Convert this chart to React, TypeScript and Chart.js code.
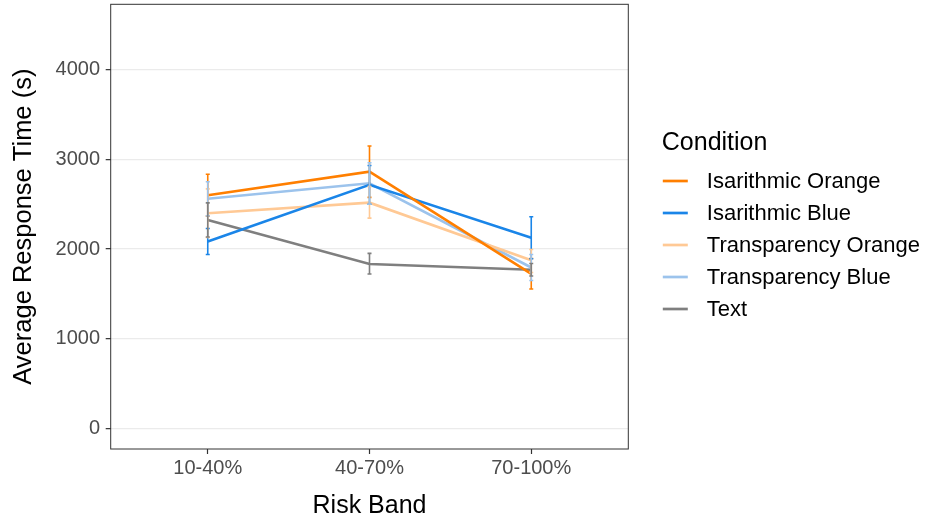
import React, { useEffect, useRef } from "react";
import { Chart, registerables } from "chart.js";

Chart.register(...registerables);

const categories = ["10-40%", "40-70%", "70-100%"];
const seriesNames = [
  "Isarithmic Orange",
  "Isarithmic Blue",
  "Transparency Orange",
  "Transparency Blue",
  "Text",
];
const seriesColors = ["#FF7F00", "#1A85E8", "#FFC995", "#9CC3EC", "#7F7F7F"];

const isoOrange = [2600, 2862, 1725];
const isoOrangeLow = [2367, 2576, 1556];
const isoOrangeHigh = [2833, 3148, 1895];

const isoBlue = [2085, 2715, 2127];
const isoBlueLow = [1940, 2500, 1893];
const isoBlueHigh = [2230, 2930, 2361];

const transOrange = [2400, 2517, 1875];
const transOrangeLow = [2130, 2345, 1740];
const transOrangeHigh = [2670, 2695, 1995];

const transBlue = [2560, 2733, 1795];
const transBlueLow = [2370, 2500, 1650];
const transBlueHigh = [2750, 2962, 1940];

const textSeries = [2324, 1834, 1770];
const textLow = [2135, 1723, 1700];
const textHigh = [2515, 1953, 1840];

const seriesValues = [isoOrange, isoBlue, transOrange, transBlue, textSeries];
const seriesLows = [isoOrangeLow, isoBlueLow, transOrangeLow, transBlueLow, textLow];
const seriesHighs = [isoOrangeHigh, isoBlueHigh, transOrangeHigh, transBlueHigh, textHigh];

const yTicks = [0, 1000, 2000, 3000, 4000];
const yMin = -225;
const yMax = 4725;

const legendTitle = "Condition";
const xTitle = "Risk Band";
const yTitle = "Average Response Time (s)";

const FONT = "Arial, 'Liberation Sans', Helvetica, sans-serif";

const errorBarPlugin = {
  id: "errorBars",
  afterDatasetsDraw(chart: any) {
    const ctx = chart.ctx;
    const xs = chart.scales.x;
    const ys = chart.scales.y;
    ctx.save();
    seriesValues.forEach((_vals, si) => {
      ctx.strokeStyle = seriesColors[si];
      ctx.lineWidth = 1.6;
      categories.forEach((_c, ci) => {
        const x = xs.getPixelForValue(ci);
        const yl = ys.getPixelForValue(seriesLows[si][ci]);
        const yh = ys.getPixelForValue(seriesHighs[si][ci]);
        ctx.beginPath();
        ctx.moveTo(x, yl);
        ctx.lineTo(x, yh);
        ctx.moveTo(x - 2, yl);
        ctx.lineTo(x + 2, yl);
        ctx.moveTo(x - 2, yh);
        ctx.lineTo(x + 2, yh);
        ctx.stroke();
      });
    });
    ctx.restore();
  },
};

const panelBorderPlugin = {
  id: "panelBorder",
  afterDraw(chart: any) {
    const { ctx, chartArea } = chart;
    ctx.save();
    ctx.strokeStyle = "#333333";
    ctx.lineWidth = 1;
    ctx.strokeRect(chartArea.left, chartArea.top, chartArea.right - chartArea.left, chartArea.bottom - chartArea.top);
    ctx.restore();
  },
};

const legendPlugin = {
  id: "customLegend",
  afterDraw(chart: any) {
    const { ctx, chartArea } = chart;
    const x0 = chartArea.right + 34.5;
    ctx.save();
    ctx.fillStyle = "#000000";
    ctx.font = `25px ${FONT}`;
    ctx.textAlign = "left";
    ctx.textBaseline = "alphabetic";
    ctx.fillText(legendTitle, x0 - 1, 150);
    ctx.font = `22px ${FONT}`;
    ctx.textBaseline = "middle";
    seriesNames.forEach((name, i) => {
      const y = 181 + 32 * i;
      ctx.strokeStyle = seriesColors[i];
      ctx.lineWidth = 2.7;
      ctx.beginPath();
      ctx.moveTo(x0, y);
      ctx.lineTo(x0 + 25, y);
      ctx.stroke();
      ctx.fillStyle = "#000000";
      ctx.fillText(name, x0 + 44, y + 1);
    });
    ctx.restore();
  },
};

export default function App() {
  const canvasRef = useRef<HTMLCanvasElement | null>(null);

  useEffect(() => {
    if (!canvasRef.current) return;
    const chart = new Chart(canvasRef.current, {
      type: "line",
      data: {
        datasets: seriesNames.map((name, si) => ({
          label: name,
          data: seriesValues[si].map((v, ci) => ({ x: ci, y: v })),
          borderColor: seriesColors[si],
          backgroundColor: seriesColors[si],
          borderWidth: 2.6,
          pointRadius: 0,
          tension: 0,
          fill: false,
        })),
      },
      options: {
        responsive: false,
        animation: false,
        events: [],
        layout: { padding: { left: 0, top: 4.3, right: 298.7, bottom: 0 } },
        plugins: {
          legend: { display: false },
          tooltip: { enabled: false },
        },
        scales: {
          x: {
            type: "linear",
            min: -0.6,
            max: 2.6,
            afterBuildTicks: (axis: any) => {
              axis.ticks = categories.map((_c, i) => ({ value: i }));
            },
            afterFit: (s: any) => {
              s.height = 74;
              s.paddingLeft = 0;
              s.paddingRight = 0;
            },
            border: { display: false },
            grid: {
              drawOnChartArea: false,
              drawTicks: true,
              tickLength: 5,
              tickColor: "#333333",
              tickWidth: 1.2,
            },
            ticks: {
              autoSkip: false,
              maxRotation: 0,
              padding: 2,
              color: "#4D4D4D",
              font: { family: FONT, size: 20 },
              callback: (v: any) => categories[Number(v)] ?? "",
            },
            title: {
              display: true,
              text: xTitle,
              color: "#000000",
              font: { family: FONT, size: 25 },
              padding: { top: 0, bottom: 2 },
            },
          },
          y: {
            type: "linear",
            min: yMin,
            max: yMax,
            afterBuildTicks: (axis: any) => {
              axis.ticks = yTicks.map((v) => ({ value: v }));
            },
            afterFit: (s: any) => {
              s.width = 110.7;
              s.paddingTop = 0;
              s.paddingBottom = 0;
            },
            border: { display: false },
            grid: {
              color: "#EBEBEB",
              lineWidth: 1.3,
              drawTicks: true,
              tickLength: 5,
              tickColor: "#333333",
              tickWidth: 1.2,
            },
            ticks: {
              padding: 5.7,
              color: "#4D4D4D",
              font: { family: FONT, size: 20 },
              callback: (v: any) => String(v),
            },
            title: {
              display: true,
              text: yTitle,
              color: "#000000",
              font: { family: FONT, size: 25.5 },
              padding: { top: 9, bottom: 0 },
            },
          },
        },
      },
      plugins: [errorBarPlugin, panelBorderPlugin, legendPlugin],
    });
    return () => chart.destroy();
  }, []);

  return (
    <div style={{ position: "fixed", left: 0, top: 0, width: 927, height: 523, background: "#FFFFFF" }}>
      <canvas ref={canvasRef} width={927} height={523} style={{ width: 927, height: 523, display: "block" }} />
    </div>
  );
}
